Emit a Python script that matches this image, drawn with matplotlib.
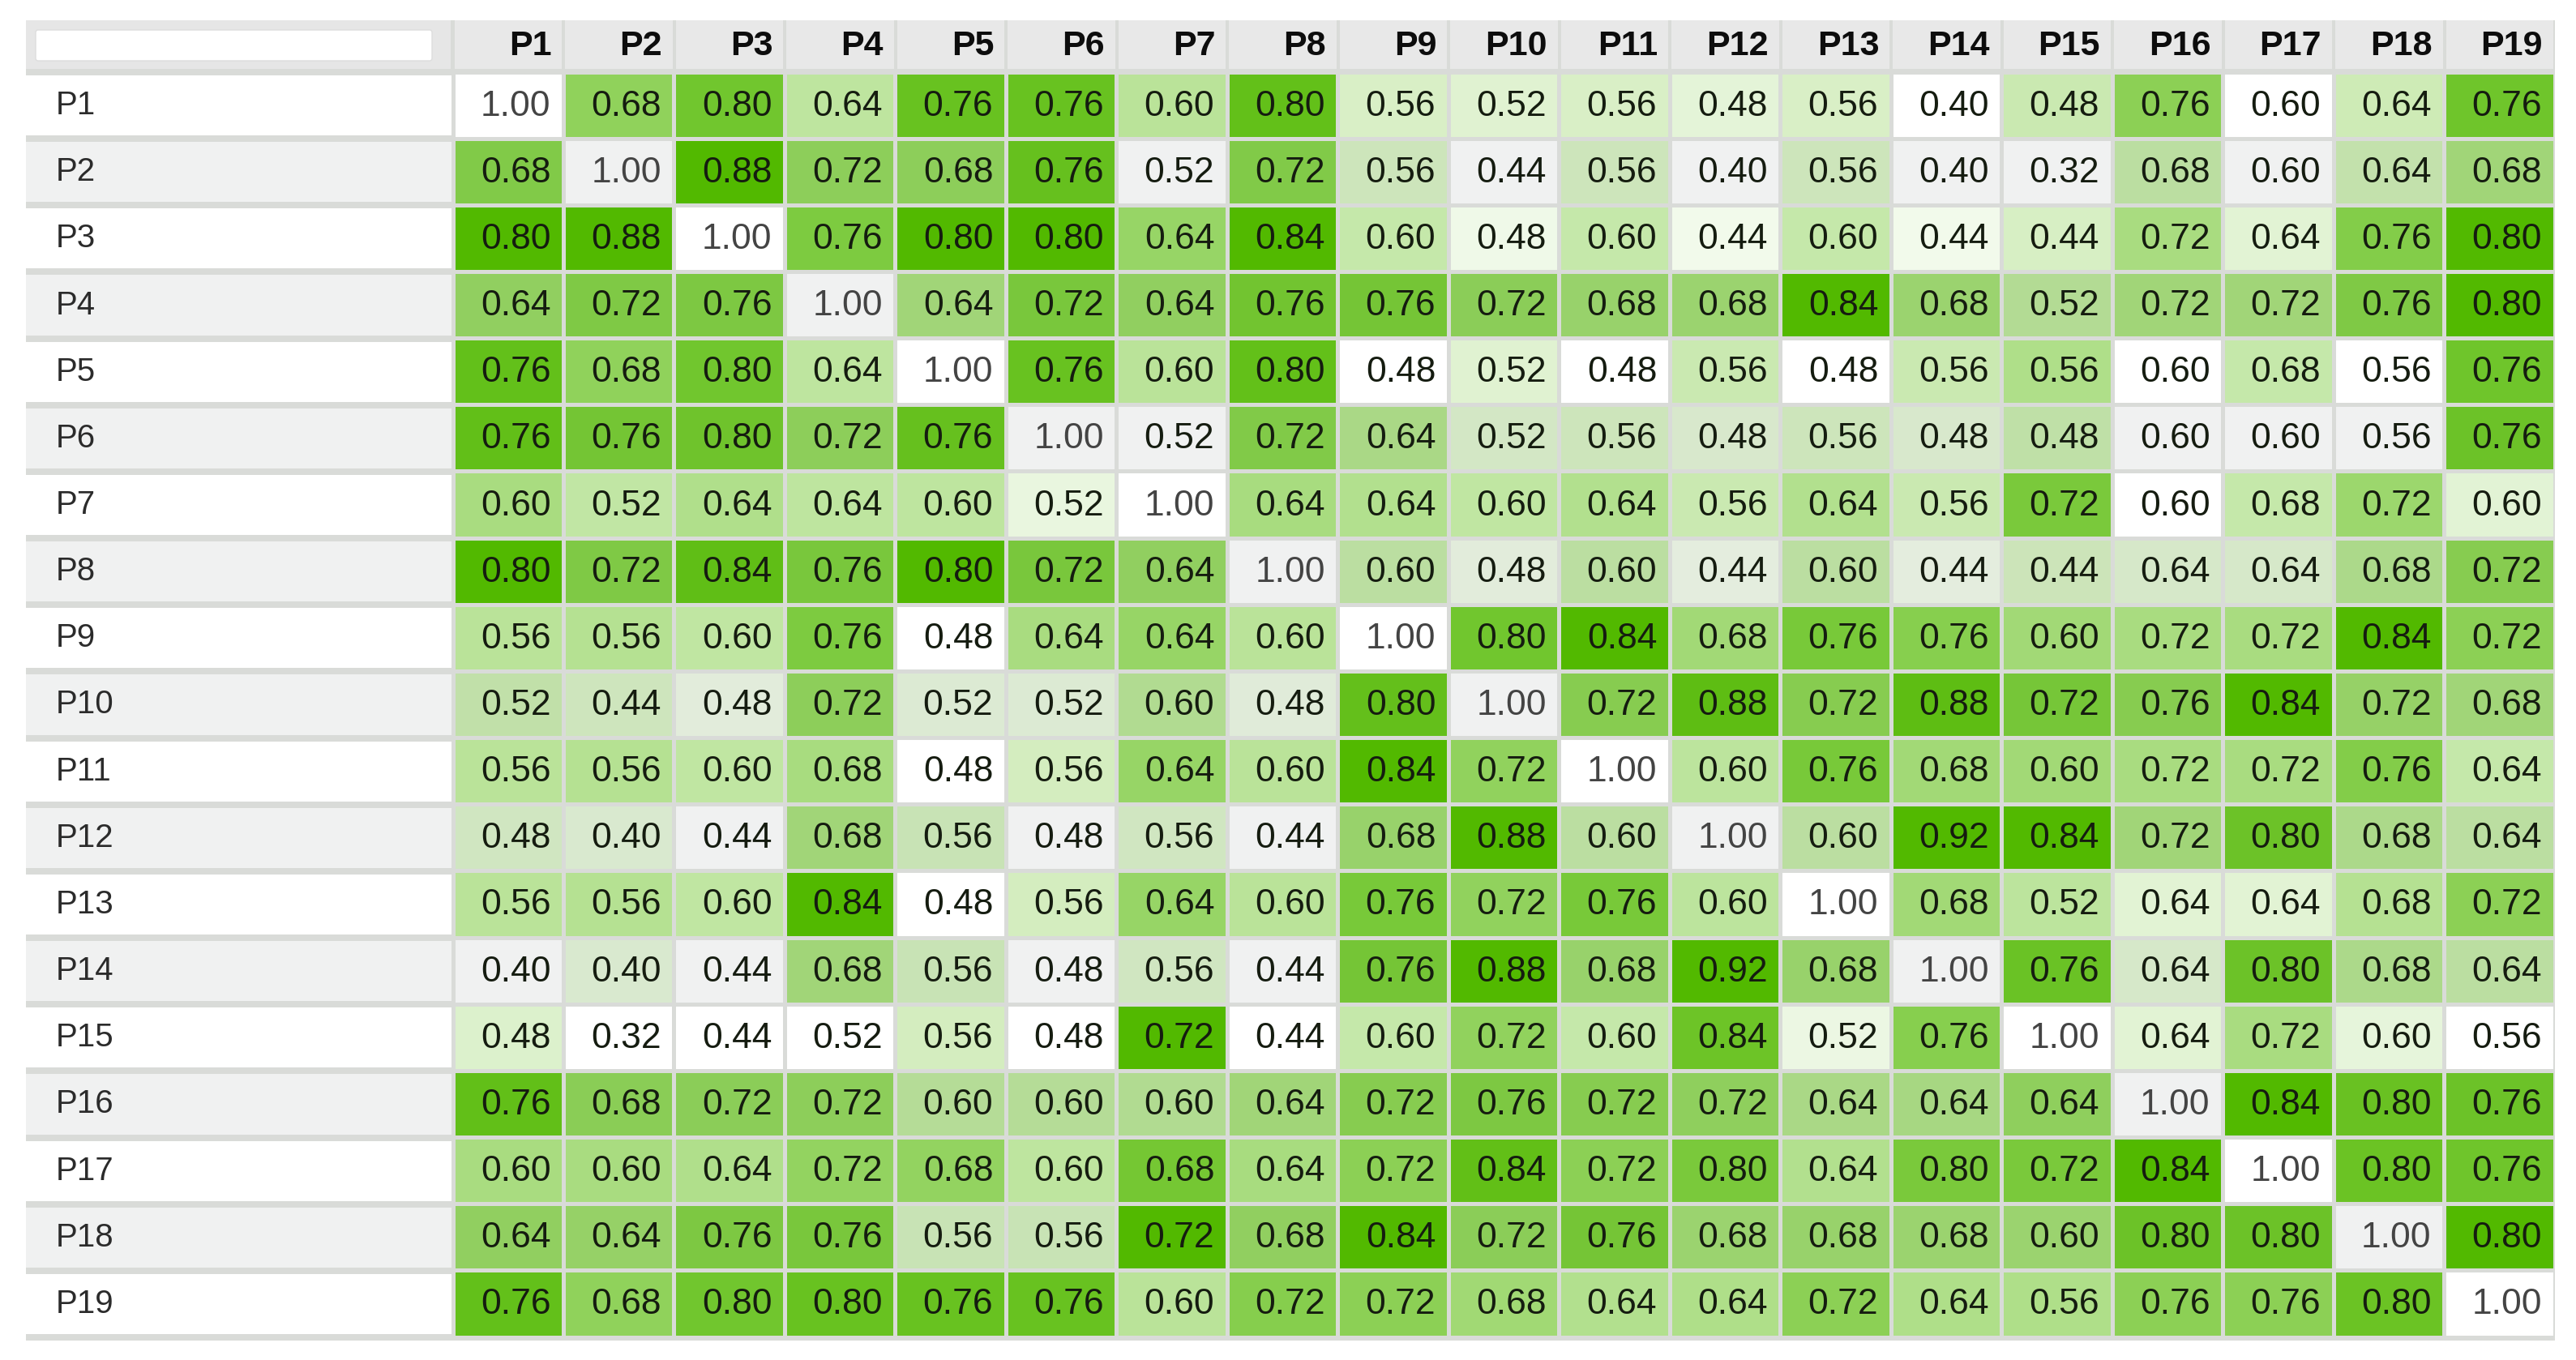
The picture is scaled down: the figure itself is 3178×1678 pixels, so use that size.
import numpy as np
import matplotlib.pyplot as plt
from matplotlib.patches import Rectangle, FancyBboxPatch

plt.rcParams['font.family'] = ['Liberation Sans', 'DejaVu Sans']

labels = ['P%d' % i for i in range(1, 20)]

# similarity matrix, rows P1..P19
values = np.array([
    [1.00, 0.68, 0.80, 0.64, 0.76, 0.76, 0.60, 0.80, 0.56, 0.52, 0.56, 0.48, 0.56, 0.40, 0.48, 0.76, 0.60, 0.64, 0.76],
    [0.68, 1.00, 0.88, 0.72, 0.68, 0.76, 0.52, 0.72, 0.56, 0.44, 0.56, 0.40, 0.56, 0.40, 0.32, 0.68, 0.60, 0.64, 0.68],
    [0.80, 0.88, 1.00, 0.76, 0.80, 0.80, 0.64, 0.84, 0.60, 0.48, 0.60, 0.44, 0.60, 0.44, 0.44, 0.72, 0.64, 0.76, 0.80],
    [0.64, 0.72, 0.76, 1.00, 0.64, 0.72, 0.64, 0.76, 0.76, 0.72, 0.68, 0.68, 0.84, 0.68, 0.52, 0.72, 0.72, 0.76, 0.80],
    [0.76, 0.68, 0.80, 0.64, 1.00, 0.76, 0.60, 0.80, 0.48, 0.52, 0.48, 0.56, 0.48, 0.56, 0.56, 0.60, 0.68, 0.56, 0.76],
    [0.76, 0.76, 0.80, 0.72, 0.76, 1.00, 0.52, 0.72, 0.64, 0.52, 0.56, 0.48, 0.56, 0.48, 0.48, 0.60, 0.60, 0.56, 0.76],
    [0.60, 0.52, 0.64, 0.64, 0.60, 0.52, 1.00, 0.64, 0.64, 0.60, 0.64, 0.56, 0.64, 0.56, 0.72, 0.60, 0.68, 0.72, 0.60],
    [0.80, 0.72, 0.84, 0.76, 0.80, 0.72, 0.64, 1.00, 0.60, 0.48, 0.60, 0.44, 0.60, 0.44, 0.44, 0.64, 0.64, 0.68, 0.72],
    [0.56, 0.56, 0.60, 0.76, 0.48, 0.64, 0.64, 0.60, 1.00, 0.80, 0.84, 0.68, 0.76, 0.76, 0.60, 0.72, 0.72, 0.84, 0.72],
    [0.52, 0.44, 0.48, 0.72, 0.52, 0.52, 0.60, 0.48, 0.80, 1.00, 0.72, 0.88, 0.72, 0.88, 0.72, 0.76, 0.84, 0.72, 0.68],
    [0.56, 0.56, 0.60, 0.68, 0.48, 0.56, 0.64, 0.60, 0.84, 0.72, 1.00, 0.60, 0.76, 0.68, 0.60, 0.72, 0.72, 0.76, 0.64],
    [0.48, 0.40, 0.44, 0.68, 0.56, 0.48, 0.56, 0.44, 0.68, 0.88, 0.60, 1.00, 0.60, 0.92, 0.84, 0.72, 0.80, 0.68, 0.64],
    [0.56, 0.56, 0.60, 0.84, 0.48, 0.56, 0.64, 0.60, 0.76, 0.72, 0.76, 0.60, 1.00, 0.68, 0.52, 0.64, 0.64, 0.68, 0.72],
    [0.40, 0.40, 0.44, 0.68, 0.56, 0.48, 0.56, 0.44, 0.76, 0.88, 0.68, 0.92, 0.68, 1.00, 0.76, 0.64, 0.80, 0.68, 0.64],
    [0.48, 0.32, 0.44, 0.52, 0.56, 0.48, 0.72, 0.44, 0.60, 0.72, 0.60, 0.84, 0.52, 0.76, 1.00, 0.64, 0.72, 0.60, 0.56],
    [0.76, 0.68, 0.72, 0.72, 0.60, 0.60, 0.60, 0.64, 0.72, 0.76, 0.72, 0.72, 0.64, 0.64, 0.64, 1.00, 0.84, 0.80, 0.76],
    [0.60, 0.60, 0.64, 0.72, 0.68, 0.60, 0.68, 0.64, 0.72, 0.84, 0.72, 0.80, 0.64, 0.80, 0.72, 0.84, 1.00, 0.80, 0.76],
    [0.64, 0.64, 0.76, 0.76, 0.56, 0.56, 0.72, 0.68, 0.84, 0.72, 0.76, 0.68, 0.68, 0.68, 0.60, 0.80, 0.80, 1.00, 0.80],
    [0.76, 0.68, 0.80, 0.80, 0.76, 0.76, 0.60, 0.72, 0.72, 0.68, 0.64, 0.64, 0.72, 0.64, 0.56, 0.76, 0.76, 0.80, 1.00],
])

n = len(labels)

# layout in pixels
W, H = 3178, 1678
left, label_w = 32, 527
x0 = left + label_w
col_w = (3152 - x0) / n
top, head_h = 25, 64
y0 = top + head_h
row_h = (1650 - y0) / n

green = np.array([82, 185, 0]) / 255
bg_white = np.array([1.0, 1.0, 1.0])
bg_gray = np.array([0.941, 0.945, 0.945])

# colour scale normalised per column, diagonal excluded
off = np.where(np.eye(n, dtype=bool), np.nan, values)
cmin = np.nanmin(off, axis=0)
cmax = np.nanmax(off, axis=0)

fig = plt.figure(figsize=(W / 100, H / 100), dpi=100)
ax = fig.add_axes([0, 0, 1, 1])
ax.set_xlim(0, W)
ax.set_ylim(H, 0)
ax.axis('off')

# grid background (the gaps between cells)
ax.add_patch(Rectangle((left, top), 3152 - left, 1654 - top, color='#d9dbd8', lw=0))

# header
ax.add_patch(Rectangle((left, top), label_w - 3, head_h - 4, color='#e6e6e6', lw=0))
ax.add_patch(FancyBboxPatch((left + 12, top + 12), label_w - 38, head_h - 26,
                            boxstyle='round,pad=0,rounding_size=3', fc='white', ec='#dddddd', lw=1))
for j, lab in enumerate(labels):
    cx = x0 + j * col_w
    ax.add_patch(Rectangle((cx + 2, top), col_w - 4, head_h - 4, color='#e8e8e8', lw=0))
    ax.text(cx + col_w - 15, top + head_h / 2, lab, ha='right', va='center',
            fontsize=31, fontweight='bold', color='#0d0d0d')

# rows
for i, lab in enumerate(labels):
    ry = y0 + i * row_h
    bg = bg_white if i % 2 == 0 else bg_gray
    ax.add_patch(Rectangle((left, ry + 4), label_w - 2, row_h - 8, color=bg, lw=0))
    ax.text(left + 37, ry + row_h / 2, lab, ha='left', va='center', fontsize=29, color='#2b2b2b')
    for j in range(n):
        v = values[i, j]
        if i == j:
            t = 0.0
        else:
            t = (v - cmin[j]) / (cmax[j] - cmin[j])
        c = bg * (1 - t) + green * t
        cx = x0 + j * col_w
        ax.add_patch(Rectangle((cx + 2.5, ry + 2.5), col_w - 5, row_h - 5, color=c, lw=0))
        ax.text(cx + col_w - 16, ry + row_h / 2 + 1, '%.2f' % v, ha='right', va='center',
                fontsize=32, color='#444444' if i == j else '#151c10')

fig.savefig('out.png', dpi=100, facecolor='white')
